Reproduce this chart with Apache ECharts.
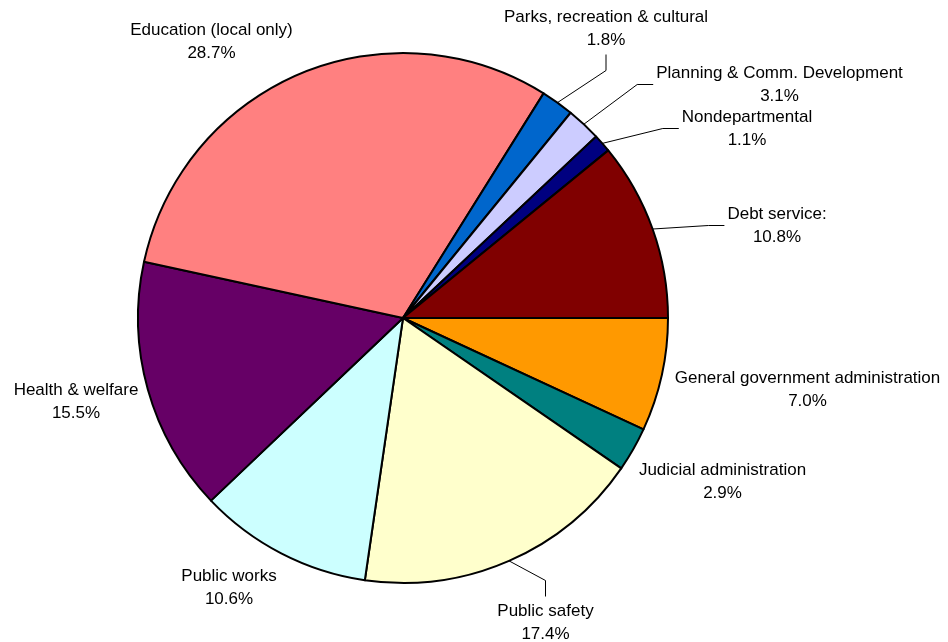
<!DOCTYPE html>
<html>
<head>
<meta charset="utf-8">
<script src="https://cdn.jsdelivr.net/npm/echarts@6/dist/echarts.min.js"></script>
<style>
  html, body { margin: 0; padding: 0; background: #fff; }
  #chart { width: 948px; height: 642px; }
</style>
</head>
<body>
<div id="chart"></div>
<script>
// slices, clockwise from 3 o'clock
const names = [
  'General government administration',
  'Judicial administration',
  'Public safety',
  'Public works',
  'Health & welfare',
  'Education (local only)',
  'Parks, recreation & cultural',
  'Planning & Comm. Development',
  'Nondepartmental',
  'Debt service:'
];
// slice sizes as drawn (share of the circle, %)
const shares = [6.9, 2.7, 17.7, 10.6, 15.5, 30.5, 2.0, 2.1, 1.1, 10.9];
// percentages printed on the labels
const labelPct = ['7.0', '2.9', '17.4', '10.6', '15.5', '28.7', '1.8', '3.1', '1.1', '10.8'];
const colors = ['#FF9900', '#008080', '#FFFFCC', '#CCFFFF', '#660066',
                '#FF8080', '#0066CC', '#CCCCFF', '#000080', '#800000'];

// label placement (block centres) and which side the leader line meets
const labelCenters = [
  [807.5, 390], [722.5, 481.5], [545.5, 622.5], [229, 587.5], [76, 401.5],
  [211.5, 41.5], [606, 28.5], [779.5, 84.5], [747, 128.5], [777, 225.5]
];
const leaderSide = [null, null, 'top', null, null, null, 'bottom', 'left', 'left', 'left'];

const CX = 403, CY = 318, R = 265;

const chart = echarts.init(document.getElementById('chart'), null, { renderer: 'canvas' });

const total = shares.reduce((a, b) => a + b, 0);
function edgePoint(i) {
  let cum = 0;
  for (let k = 0; k < i; k++) cum += shares[k];
  const a = (cum + shares[i] / 2) / total * Math.PI * 2;
  return [CX + R * Math.cos(a), CY + R * Math.sin(a)];
}

chart.setOption({
  backgroundColor: '#ffffff',
  animation: false,
  series: [{
    type: 'pie',
    center: [CX, CY],
    radius: R,
    startAngle: 0,
    clockwise: true,
    avoidLabelOverlap: false,
    emphasis: { disabled: true },
    itemStyle: { borderColor: '#000', borderWidth: 2 },
    label: {
      show: true,
      position: 'outside',
      color: '#000',
      fontFamily: 'Liberation Sans, Arial, sans-serif',
      fontSize: 17,
      lineHeight: 23,
      formatter: p => p.name + '\n' + labelPct[p.dataIndex] + '%'
    },
    labelLine: { show: true, lineStyle: { color: '#000', width: 1 } },
    labelLayout: function (params) {
      const i = params.dataIndex;
      const c = labelCenters[i];
      const r = params.labelRect;
      const out = { x: c[0], y: c[1], align: 'center', verticalAlign: 'middle' };
      const side = leaderSide[i];
      if (side) {
        const p0 = (params.labelLinePoints && params.labelLinePoints[0]) || edgePoint(i);
        let end, elbow;
        if (side === 'left') {
          end = [c[0] - r.width / 2 - 3, c[1]];
          elbow = [end[0] - 16, end[1]];
        } else if (side === 'bottom') {
          end = [c[0], c[1] + r.height / 2 + 3];
          elbow = [end[0], end[1] + 16];
        } else {
          end = [c[0], c[1] - r.height / 2 - 3];
          elbow = [end[0], end[1] - 16];
        }
        out.labelLinePoints = [p0, elbow, end];
      }
      return out;
    },
    data: names.map((n, i) => ({
      name: n,
      value: shares[i],
      itemStyle: { color: colors[i] },
      labelLine: { show: !!leaderSide[i] }
    }))
  }]
});
</script>
</body>
</html>
